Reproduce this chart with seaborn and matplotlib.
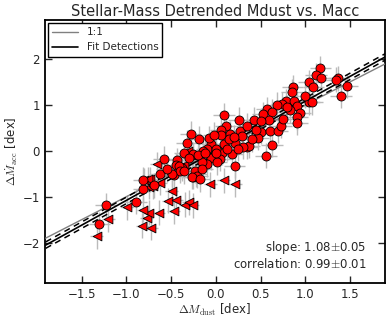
import numpy as np
import pandas as pd
import seaborn as sns
import matplotlib
matplotlib.use('Agg')
import matplotlib.pyplot as plt

# detections (red circles)
det_x = [-1.23, -1.30, -0.89, -0.81, -0.69, -0.62, -0.58, -0.43, -0.45, -0.38, -0.47, -0.32, -0.26,
         -0.22, -0.26, 0.09, 0.26, 0.11, 0.06, 0.06, 0.16, 0.27, 0.29, 0.35, 0.22, 0.18, 0.21, 0.07,
         0.09, -0.05, -0.08, -0.10, -0.14, -0.05, 0.05, -0.19, -0.28, -0.25, -0.41, -0.40, -0.49,
         -0.23, -0.21, -0.27, -0.18, -0.81, -0.10, -0.15, 0.01,
         1.17, 1.12, 1.18, 1.04, 1.09, 1.37, 1.34, 1.47, 1.40, 0.86, 0.85, 0.79, 0.87, 0.91, 1.04,
         1.08, 0.94, 0.91, 0.91, 0.83, 0.74, 0.68, 0.57, 0.53, 0.63, 0.60, 0.43, 0.51, 0.50, 0.61,
         0.69, 0.73, 0.47, 0.63, 0.37, 0.30, 0.56,
         -0.35, -0.30, -0.20, -0.12, 0.00, 0.12, 0.15, 0.25, 0.40, 0.45, 0.35, 0.75, 0.80, 1.00,
         -0.55, -0.35, -0.15, 0.00, 0.20, -0.02]
det_y = [-1.19, -1.60, -1.11, -0.84, -0.75, -0.51, -0.17, -0.20, -0.31, -0.38, -0.53, 0.18, -0.09,
         -0.51, -0.57, 0.77, 0.68, 0.55, 0.46, 0.34, 0.37, 0.44, 0.33, 0.09, 0.18, -0.07, -0.33, -0.04,
         0.15, 0.15, 0.27, 0.04, 0.00, -0.15, -0.17, 0.26, 0.37, -0.07, -0.33, -0.44, -0.51,
         -0.44, -0.55, -0.56, -0.62, -0.63, -0.29, -0.25, -0.25,
         1.80, 1.64, 1.58, 1.50, 1.39, 1.58, 1.55, 1.41, 1.20, 1.39, 1.29, 1.08, 1.09, 0.98, 1.06,
         1.06, 0.82, 0.73, 0.61, 0.88, 1.02, 1.00, 0.91, 0.80, 0.85, 0.67, 0.68, 0.66, 0.42, 0.44,
         0.44, 0.55, 0.29, 0.13, 0.11, 0.09, -0.11,
         -0.05, -0.15, -0.10, -0.05, 0.05, 0.05, 0.25, 0.05, 0.25, 0.45, 0.55, 0.70, 0.95, 1.20,
         -0.40, -0.45, -0.40, -0.05, 0.30, 0.35]

# upper limits on Mdust (red left triangles)
lim_x = [-1.33, -1.20, -0.99, -0.82, -0.77, -0.75, -0.81, -0.72, -0.64, -0.80, -0.73, -0.75, -0.66,
         -0.53, -0.49, -0.44, -0.47, -0.34, -0.30, -0.26, -0.31, 0.09, -0.06, 0.22, -0.62, -0.76,
         -0.70, -0.40, -0.35]
lim_y = [-1.86, -1.49, -1.23, -1.63, -1.46, -1.35, -1.28, -1.68, -1.35, -0.64, -0.62, -0.78, -0.29,
         -1.09, -0.87, -1.06, -1.32, -1.17, -1.12, -1.19, 0.00, -0.64, -0.73, -0.73, -0.69, -0.62,
         -0.77, -0.35, -0.30]

x_err = 0.12
y_err = 0.27

slope = 1.08
slope_err = 0.05
corr = 0.99
corr_err = 0.01
band = 0.07
line_x = [-1.9, 1.9]

sns.set_style('ticks')
plt.rcParams['font.family'] = ['DejaVu Sans']
plt.rcParams['mathtext.fontset'] = 'cm'

fig = plt.figure(figsize=(3.9, 3.21), dpi=100)
ax = fig.add_axes([0.115, 0.118, 0.872, 0.82])

det = pd.DataFrame({'x': det_x, 'y': det_y})
lim = pd.DataFrame({'x': lim_x, 'y': lim_y})

# error bars
ax.errorbar(det['x'], det['y'], xerr=x_err, yerr=y_err, fmt='none', ecolor='#bbbbbb',
            elinewidth=1.0, zorder=1)
ax.errorbar(lim['x'], lim['y'], xerr=x_err * 0.6, yerr=y_err, fmt='none', ecolor='#bbbbbb',
            elinewidth=1.0, zorder=1)

# lines
fit_y = [slope * v for v in line_x]
ax.plot(line_x, line_x, color='gray', lw=1.0, label='1:1', zorder=3)
ax.plot(line_x, fit_y, color='black', lw=1.2, label='Fit Detections', zorder=3)
ax.plot(line_x, [v + band for v in fit_y], color='black', lw=1.1, ls='--', dashes=(4, 3), zorder=3)
ax.plot(line_x, [v - band for v in fit_y], color='black', lw=1.1, ls='--', dashes=(4, 3), zorder=3)

sns.scatterplot(data=lim, x='x', y='y', marker='<', color='red', edgecolor='black',
                linewidth=0.6, s=40, ax=ax, zorder=4)
sns.scatterplot(data=det, x='x', y='y', marker='o', color='red', edgecolor='black',
                linewidth=0.6, s=42, ax=ax, zorder=5)

ax.set_xlim(-1.91, 1.89)
ax.set_ylim(-2.88, 2.85)
ax.set_xticks([-1.5, -1.0, -0.5, 0.0, 0.5, 1.0, 1.5])
ax.set_yticks([-2, -1, 0, 1, 2])
ax.tick_params(direction='in', top=True, right=True, length=5, width=1, labelsize=8.5, pad=3.5)
for sp in ax.spines.values():
    sp.set_linewidth(1.3)
    sp.set_color('black')

ax.set_xlabel(r'$\Delta M_{\rm dust}$ [dex]', fontsize=8.5, labelpad=1)
ax.set_ylabel(r'$\Delta \dot{M}_{\rm acc}$ [dex]', fontsize=8.5, labelpad=2)
ax.set_title('Stellar-Mass Detrended Mdust vs. Macc', fontsize=10.5, pad=3)

ax.text(0.946, 0.045, f'slope: {slope:.2f}$\\pm${slope_err:.2f}\ncorrelation: {corr:.2f}$\\pm${corr_err:.2f}',
        transform=ax.transAxes, ha='right', va='bottom', fontsize=8.5, linespacing=1.1)

leg = ax.legend(loc='upper left', fontsize=7.5, fancybox=False, framealpha=1, edgecolor='black',
                borderaxespad=0.3, handlelength=2.5, borderpad=0.4)
leg.get_frame().set_linewidth(1.0)

fig.savefig('out.png', dpi=100)
